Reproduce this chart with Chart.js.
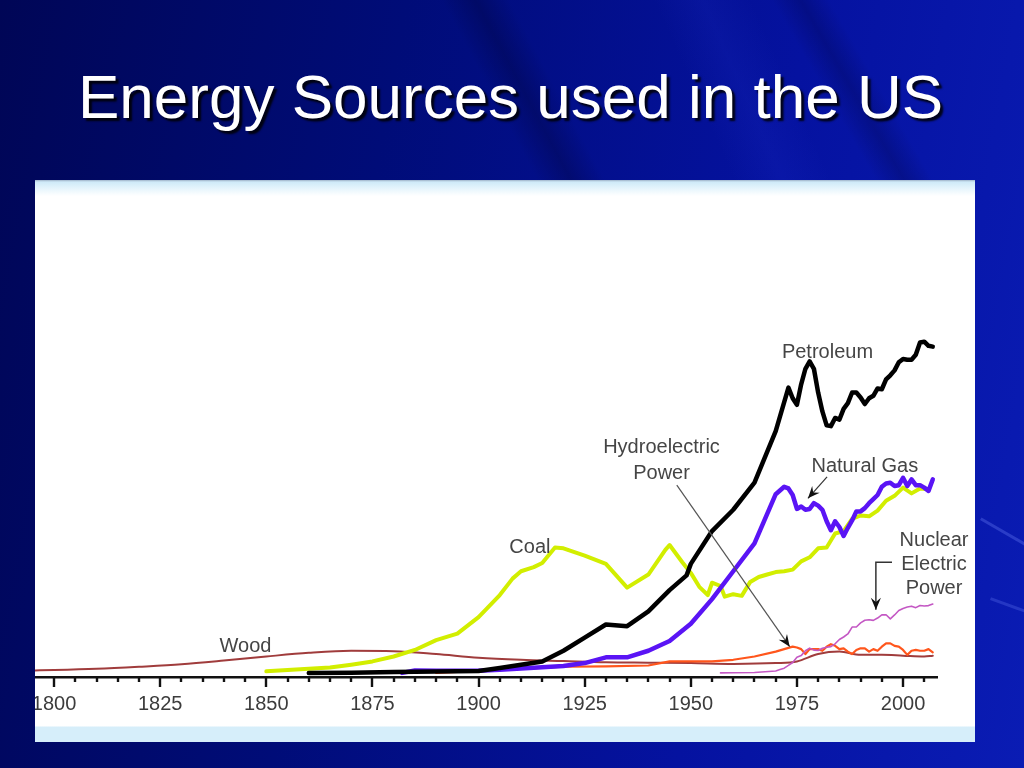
<!DOCTYPE html>
<html lang="en">
<head>
    <meta charset="UTF-8">
    <title>Energy Sources used in the US</title>
    <script src="https://cdn.jsdelivr.net/npm/chart.js@4.4.1/dist/chart.umd.min.js"></script>
    <style>
        html, body { margin: 0; padding: 0; }
        body {
            width: 1024px; height: 768px; overflow: hidden; position: relative;
            background: linear-gradient(100deg, #000656 0%, #000c78 35%, #0512a0 70%, #0a1cb4 100%);
            font-family: "Liberation Sans", Arial, sans-serif;
        }
        .streak { position: absolute; transform-origin: 0 0; pointer-events: none; }
        h1 {
            position: absolute; left: 78px; top: 66px; margin: 0;
            font-size: 62px; font-weight: normal; color: #fff; white-space: nowrap;
            line-height: 62px;
            text-shadow: 3px 3px 2px rgba(0,0,0,0.85);
        }
        #panel {
            position: absolute; left: 35px; top: 180px; width: 940px; height: 562px;
            background: linear-gradient(to bottom, #9fb3c8 0px, #cfeaf8 2px, #e4f4fc 8px, #ffffff 16px, #ffffff 546px, #d6eefa 547px, #d6eefa 562px);
        }
        #myChart { position: absolute; left: 0; top: 0; }
    </style>
</head>
<body>
    <div class="streak" style="left:420px;top:-40px;width:60px;height:420px;transform:rotate(-28deg);background:linear-gradient(to right,rgba(0,0,30,0),rgba(0,0,30,0.25),rgba(0,0,30,0));"></div>
    <div class="streak" style="left:640px;top:-30px;width:90px;height:380px;transform:rotate(-24deg);background:linear-gradient(to right,rgba(60,80,255,0),rgba(60,80,255,0.08),rgba(60,80,255,0));"></div>
    <div class="streak" style="left:760px;top:-20px;width:50px;height:300px;transform:rotate(-30deg);background:linear-gradient(to right,rgba(0,0,40,0),rgba(0,0,40,0.22),rgba(0,0,40,0));"></div>
    <div class="streak" style="left:980px;top:520px;width:3px;height:120px;transform:rotate(-60deg);background:rgba(120,140,255,0.3);"></div>
    <div class="streak" style="left:990px;top:600px;width:3px;height:90px;transform:rotate(-70deg);background:rgba(120,140,255,0.25);"></div>
    <h1>Energy Sources used in the US</h1>
    <div id="panel">
        <canvas id="myChart" width="940" height="562"></canvas>
    </div>
    <script>
        // values in quadrillion Btu
        var woodYears = [1795, 1800, 1810, 1820, 1830, 1840, 1850, 1860, 1870, 1880, 1890, 1900, 1910, 1920, 1930, 1940, 1950, 1960, 1970, 1975, 1980, 1985, 1990, 1995, 2000, 2005, 2007];
        var woodValues = [0.3, 0.35, 0.5, 0.75, 1.05, 1.5, 2.0, 2.45, 2.7, 2.65, 2.3, 1.85, 1.6, 1.45, 1.3, 1.25, 1.2, 1.1, 1.2, 1.4, 2.3, 2.6, 2.2, 2.2, 2.1, 2.0, 2.1];

        var coalYears = [1850, 1855, 1860, 1865, 1870, 1875, 1880, 1885, 1890, 1895, 1900, 1905, 1908, 1910, 1913, 1915, 1918, 1920, 1925, 1930, 1935, 1940, 1944, 1945, 1948, 1950, 1952, 1954, 1955, 1957, 1958, 1960, 1962, 1964, 1966, 1968, 1970, 1972, 1974, 1976, 1978, 1980, 1982, 1984, 1986, 1988, 1990, 1992, 1994, 1996, 1998, 2000, 2002, 2004, 2006];
        var coalValues = [0.2, 0.35, 0.5, 0.65, 1.0, 1.4, 2.0, 2.8, 4.0, 4.8, 6.8, 9.5, 11.5, 12.4, 12.9, 13.4, 15.3, 15.2, 14.3, 13.3, 10.4, 12.0, 15.0, 15.6, 13.5, 12.2, 10.5, 9.5, 11.0, 10.6, 9.3, 9.6, 9.4, 11.1, 11.7, 12.0, 12.3, 12.4, 12.6, 13.6, 14.1, 15.2, 15.3, 17.0, 17.3, 18.8, 19.2, 19.1, 19.8, 21.0, 21.6, 22.6, 21.9, 22.5, 22.4];

        var petroleumYears = [1860, 1870, 1880, 1890, 1900, 1905, 1910, 1915, 1920, 1925, 1930, 1935, 1940, 1945, 1949, 1950, 1955, 1960, 1965, 1970, 1973, 1974, 1975, 1976, 1977, 1978, 1979, 1980, 1981, 1982, 1983, 1984, 1985, 1986, 1987, 1988, 1989, 1990, 1991, 1992, 1993, 1994, 1995, 1996, 1997, 1998, 1999, 2000, 2001, 2002, 2003, 2004, 2005, 2006, 2007];
        var petroleumValues = [0, 0.01, 0.1, 0.16, 0.23, 0.6, 1.0, 1.4, 2.7, 4.3, 5.9, 5.7, 7.5, 10.1, 11.9, 13.3, 17.3, 19.9, 23.2, 29.5, 34.8, 33.5, 32.7, 35.2, 37.1, 38.0, 37.1, 34.2, 31.9, 30.2, 30.1, 31.1, 30.9, 32.2, 32.9, 34.2, 34.2, 33.6, 32.8, 33.5, 33.8, 34.7, 34.6, 35.8, 36.3, 36.9, 37.9, 38.3, 38.2, 38.2, 38.8, 40.3, 40.4, 39.9, 39.8];

        var gasYears = [1882, 1885, 1890, 1900, 1905, 1910, 1915, 1920, 1925, 1930, 1935, 1940, 1945, 1950, 1955, 1960, 1965, 1970, 1972, 1973, 1974, 1975, 1976, 1977, 1978, 1979, 1980, 1981, 1982, 1983, 1984, 1985, 1986, 1987, 1988, 1989, 1990, 1991, 1992, 1993, 1994, 1995, 1996, 1997, 1998, 1999, 2000, 2001, 2002, 2003, 2004, 2005, 2006, 2007];
        var gasValues = [0, 0.3, 0.25, 0.25, 0.37, 0.54, 0.7, 0.85, 1.2, 1.9, 1.9, 2.7, 3.9, 6.0, 9.0, 12.4, 15.8, 21.8, 22.7, 22.5, 21.7, 20.0, 20.3, 19.9, 20.0, 20.7, 20.4, 19.9, 18.5, 17.4, 18.5, 17.8, 16.7, 17.7, 18.6, 19.7, 19.7, 20.1, 20.7, 21.2, 21.7, 22.7, 23.1, 23.2, 22.8, 22.9, 23.8, 22.8, 23.6, 22.9, 22.9, 22.6, 22.2, 23.6];

        var hydroYears = [1890, 1900, 1910, 1920, 1930, 1940, 1945, 1950, 1955, 1960, 1965, 1970, 1972, 1974, 1975, 1976, 1977, 1978, 1979, 1980, 1981, 1982, 1983, 1984, 1985, 1986, 1987, 1988, 1989, 1990, 1991, 1992, 1993, 1994, 1995, 1996, 1997, 1998, 1999, 2000, 2001, 2002, 2003, 2004, 2005, 2006, 2007];
        var hydroValues = [0, 0.25, 0.5, 0.75, 0.8, 0.9, 1.4, 1.4, 1.4, 1.6, 2.0, 2.6, 2.9, 3.2, 3.1, 2.9, 2.3, 2.9, 2.9, 2.9, 2.7, 3.2, 3.5, 3.3, 2.9, 3.0, 2.6, 2.3, 2.8, 3.0, 3.0, 2.6, 2.9, 2.7, 3.2, 3.6, 3.6, 3.3, 3.2, 2.8, 2.2, 2.7, 2.8, 2.7, 2.7, 2.9, 2.5];

        var nuclearYears = [1957, 1960, 1965, 1970, 1971, 1972, 1973, 1974, 1975, 1976, 1977, 1978, 1979, 1980, 1981, 1982, 1983, 1984, 1985, 1986, 1987, 1988, 1989, 1990, 1991, 1992, 1993, 1994, 1995, 1996, 1997, 1998, 1999, 2000, 2001, 2002, 2003, 2004, 2005, 2006, 2007];
        var nuclearValues = [0, 0.01, 0.04, 0.24, 0.41, 0.58, 0.91, 1.27, 1.9, 2.11, 2.7, 3.02, 2.78, 2.74, 3.01, 3.13, 3.2, 3.55, 4.08, 4.38, 4.75, 5.59, 5.6, 6.1, 6.42, 6.48, 6.41, 6.69, 7.08, 7.09, 6.6, 7.07, 7.61, 7.86, 8.03, 8.14, 7.96, 8.22, 8.16, 8.21, 8.41];

        var tickYears = [1800, 1825, 1850, 1875, 1900, 1925, 1950, 1975, 2000];

        function pts(xs, ys) {
            return xs.map(function(x, i) { return { x: x, y: ys[i] }; });
        }

        // label text and arrows, placed in data units (year, value)
        var labels = [
            { text: 'Petroleum', x: 1982.2, y: 38.4 },
            { text: 'Natural Gas', x: 1991.0, y: 24.5 },
            { text: 'Hydroelectric', x: 1943.1, y: 26.8 },
            { text: 'Power', x: 1943.1, y: 23.7 },
            { text: 'Coal', x: 1912.1, y: 14.6 },
            { text: 'Wood', x: 1845.1, y: 2.6 },
            { text: 'Nuclear', x: 2007.3, y: 15.5 },
            { text: 'Electric', x: 2007.3, y: 12.6 },
            { text: 'Power', x: 2007.3, y: 9.6 }
        ];
        var arrows = [
            { path: [[1946.7, 22.9], [1973.3, 3.2]], color: '#555', width: 1.2 },
            { path: [[1982.1, 23.9], [1977.6, 21.3]], color: '#333', width: 1.2 },
            { path: [[1997.4, 13.5], [1993.6, 13.5], [1993.6, 7.7]], color: '#333', width: 1.5 }
        ];

        var decorations = {
            id: 'decorations',
            afterDraw: function(chart) {
                var ctx = chart.ctx;
                var xs = chart.scales.x, ys = chart.scales.y;
                var bottom = chart.chartArea.bottom;
                ctx.save();
                // tick marks: long every 25 years, short every 5
                ctx.strokeStyle = '#111';
                ctx.lineWidth = 2.4;
                for (var yr = 1800; yr <= 2005; yr += 5) {
                    var px = Math.round(xs.getPixelForValue(yr));
                    var len = (yr % 25 === 0) ? 10 : 5;
                    ctx.beginPath();
                    ctx.moveTo(px, bottom);
                    ctx.lineTo(px, bottom + len);
                    ctx.stroke();
                }
                // arrows
                arrows.forEach(function(a) {
                    var p = a.path.map(function(q) { return [xs.getPixelForValue(q[0]), ys.getPixelForValue(q[1])]; });
                    ctx.strokeStyle = a.color;
                    ctx.lineWidth = a.width;
                    ctx.beginPath();
                    ctx.moveTo(p[0][0], p[0][1]);
                    for (var i = 1; i < p.length; i++) ctx.lineTo(p[i][0], p[i][1]);
                    ctx.stroke();
                    var t = p[p.length - 1], f = p[p.length - 2];
                    var ang = Math.atan2(t[1] - f[1], t[0] - f[0]);
                    var hl = 13;
                    ctx.fillStyle = '#111';
                    ctx.beginPath();
                    ctx.moveTo(t[0] - hl * Math.cos(ang - 0.4), t[1] - hl * Math.sin(ang - 0.4));
                    ctx.lineTo(t[0], t[1]);
                    ctx.lineTo(t[0] - hl * Math.cos(ang + 0.4), t[1] - hl * Math.sin(ang + 0.4));
                    ctx.lineTo(t[0] - hl * 0.6 * Math.cos(ang), t[1] - hl * 0.6 * Math.sin(ang));
                    ctx.closePath();
                    ctx.fill();
                });
                // labels
                ctx.fillStyle = '#454545';
                ctx.font = '20px "Liberation Sans", Arial, sans-serif';
                ctx.textAlign = 'center';
                ctx.textBaseline = 'alphabetic';
                labels.forEach(function(l) {
                    ctx.fillText(l.text, xs.getPixelForValue(l.x), ys.getPixelForValue(l.y));
                });
                ctx.restore();
            }
        };

        var ctx = document.getElementById('myChart').getContext('2d');
        var chart = new Chart(ctx, {
            type: 'line',
            data: {
                datasets: [
                    { label: 'Petroleum', data: pts(petroleumYears, petroleumValues), borderColor: '#000000', borderWidth: 4.5 },
                    { label: 'Natural Gas', data: pts(gasYears, gasValues), borderColor: '#5a14f5', borderWidth: 4.5 },
                    { label: 'Coal', data: pts(coalYears, coalValues), borderColor: '#d2ee00', borderWidth: 4 },
                    { label: 'Nuclear Electric Power', data: pts(nuclearYears, nuclearValues), borderColor: '#c458c4', borderWidth: 1.6 },
                    { label: 'Hydroelectric Power', data: pts(hydroYears, hydroValues), borderColor: '#ff561c', borderWidth: 2.2 },
                    { label: 'Wood', data: pts(woodYears, woodValues), borderColor: '#a03c3c', borderWidth: 2, cubicInterpolationMode: 'monotone' }
                ]
            },
            options: {
                responsive: false,
                animation: false,
                events: [],
                layout: { padding: { top: 83, left: 0, right: 38, bottom: 0 } },
                elements: {
                    point: { radius: 0 },
                    line: { tension: 0, fill: false, borderJoinStyle: 'round', borderCapStyle: 'round' }
                },
                plugins: { legend: { display: false }, tooltip: { enabled: false } },
                scales: {
                    x: {
                        type: 'linear',
                        min: 1795.5,
                        max: 2008,
                        grid: { display: false, drawTicks: false },
                        border: { display: true, color: '#111', width: 2.5 },
                        ticks: {
                            stepSize: 5,
                            includeBounds: false,
                            autoSkip: false,
                            maxRotation: 0,
                            padding: 15,
                            color: '#3c3c3c',
                            font: { size: 20, family: '"Liberation Sans", Arial, sans-serif' },
                            callback: function(v) { return tickYears.indexOf(v) >= 0 ? String(v) : ''; }
                        },
                        afterFit: function(s) { s.height = 65; s.paddingLeft = 0; s.paddingRight = 0; }
                    },
                    y: {
                        display: false,
                        min: -0.5,
                        max: 50
                    }
                }
            },
            plugins: [decorations]
        });
    </script>
</body>
</html>
